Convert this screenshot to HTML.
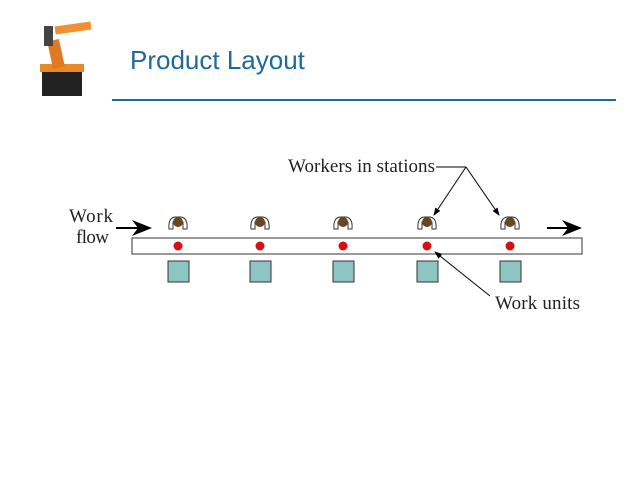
<!DOCTYPE html>
<html><head><style>
body{margin:0;width:638px;height:479px;background:#fff;overflow:hidden;position:relative;font-family:"Liberation Sans",sans-serif}
.t{position:absolute;left:130px;top:45px;font-size:26px;color:#1d6a9b}
</style></head><body>
<div class="t">Product Layout</div>
<svg width="638" height="479" style="position:absolute;left:0;top:0">
<defs><marker id="a" markerWidth="8" markerHeight="6" refX="7" refY="3" orient="auto"><path d="M0,0L8,3L0,6z" fill="#000"/></marker>
<marker id="b" markerWidth="10" markerHeight="8" refX="9" refY="4" orient="auto"><path d="M0,0L10,4L0,8L3,4z" fill="#000"/></marker>
<g id="w">
<path d="M-9,229 Q-10,218 -3,217 L3,217 Q10,218 9,229 L5,229 L5,222 L-5,222 L-5,229 Z" fill="#fff" stroke="#333"/>
<circle cx="0" cy="222" r="5" fill="#6b4522"/>
<circle cx="0" cy="246" r="4.5" fill="#d41010"/>
<rect x="-10" y="261" width="21" height="21" fill="#8cc5c2" stroke="#333"/>
</g></defs>
<g>
<rect x="42" y="70" width="40" height="26" fill="#222"/>
<rect x="40" y="64" width="44" height="8" fill="#e8892a"/>
<rect x="50" y="40" width="12" height="28" fill="#e07a20" transform="rotate(-12 56 54)"/>
<rect x="55" y="24" width="36" height="8" fill="#f09030" transform="rotate(-8 73 28)"/>
<rect x="44" y="26" width="9" height="20" fill="#444"/>
</g>
<line x1="112" y1="100" x2="616" y2="100" stroke="#1d6a9b" stroke-width="2"/>
<rect x="132" y="238" width="450" height="16" fill="#fff" stroke="#333" stroke-width="1"/>
<g font-family="Liberation Serif" font-size="19" fill="#222">
<text x="69" y="222" textLength="44">Work</text><text x="76" y="243" textLength="33">flow</text>
<text x="288" y="172" textLength="147">Workers in stations</text>
<text x="495" y="309" textLength="85">Work units</text>
</g>
<line x1="116" y1="228" x2="150" y2="228" stroke="#000" stroke-width="2" marker-end="url(#b)"/>
<line x1="547" y1="228" x2="580" y2="228" stroke="#000" stroke-width="2" marker-end="url(#b)"/>
<line x1="436" y1="167" x2="466" y2="167" stroke="#000"/>
<line x1="466" y1="167" x2="434" y2="215" stroke="#000" marker-end="url(#a)"/>
<line x1="466" y1="167" x2="499" y2="215" stroke="#000" marker-end="url(#a)"/>
<line x1="490" y1="296" x2="435" y2="252" stroke="#000" marker-end="url(#a)"/>
<use href="#w" x="178"/><use href="#w" x="260"/><use href="#w" x="343"/><use href="#w" x="427"/><use href="#w" x="510"/>
</svg>
</body></html>
